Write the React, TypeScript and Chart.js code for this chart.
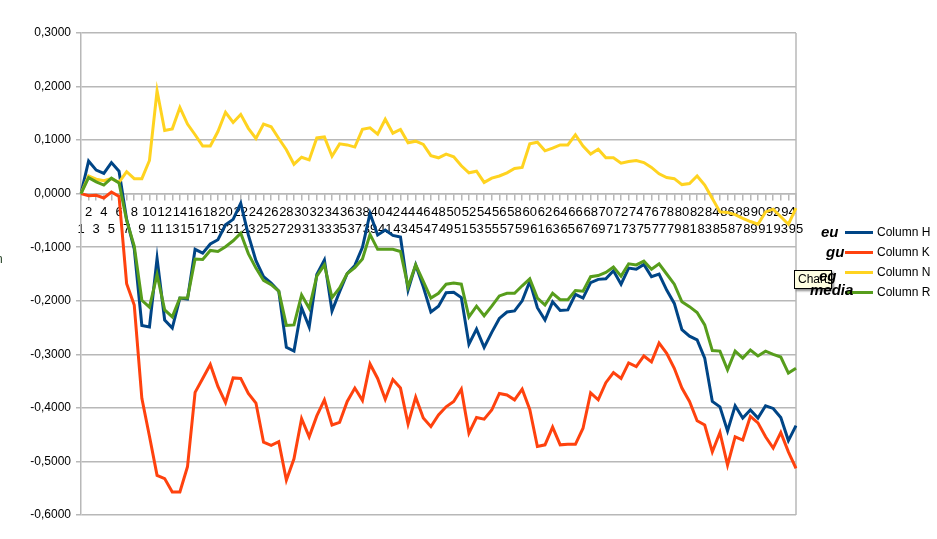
import React, { useEffect, useRef } from "react";
import { Chart, registerables } from "chart.js";

Chart.register(...registerables);

const categories: string[] = Array.from({ length: 95 }, (_, i) => String(i + 1));

const columnH: number[] = [
  0, 0.061, 0.044, 0.038, 0.058, 0.042, -0.048, -0.103, -0.246, -0.249,
  -0.121, -0.236, -0.251, -0.195, -0.197, -0.104, -0.111, -0.094, -0.086, -0.058,
  -0.048, -0.018, -0.077, -0.125, -0.155, -0.167, -0.182, -0.287, -0.294, -0.213,
  -0.249, -0.151, -0.124, -0.219, -0.183, -0.149, -0.134, -0.1, -0.037, -0.077,
  -0.068, -0.078, -0.081, -0.18, -0.133, -0.174, -0.221, -0.21, -0.185, -0.184,
  -0.194, -0.281, -0.253, -0.287, -0.259, -0.233, -0.221, -0.219, -0.2, -0.164,
  -0.213, -0.236, -0.202, -0.218, -0.217, -0.188, -0.195, -0.166, -0.16, -0.159,
  -0.144, -0.169, -0.139, -0.141, -0.132, -0.155, -0.15, -0.18, -0.205, -0.254,
  -0.266, -0.273, -0.307, -0.388, -0.398, -0.443, -0.396, -0.419, -0.404, -0.419,
  -0.396, -0.401, -0.418, -0.461, -0.433,
];

const columnK: number[] = [
  0, -0.004, -0.003, -0.008, 0.003, -0.005, -0.168, -0.208, -0.382, -0.453,
  -0.526, -0.532, -0.557, -0.557, -0.51, -0.371, -0.345, -0.319, -0.36, -0.39,
  -0.344, -0.345, -0.373, -0.391, -0.464, -0.47, -0.463, -0.535, -0.495, -0.42,
  -0.454, -0.415, -0.385, -0.432, -0.427, -0.388, -0.363, -0.386, -0.318, -0.345,
  -0.384, -0.347, -0.363, -0.43, -0.38, -0.419, -0.435, -0.413, -0.398, -0.388,
  -0.365, -0.447, -0.418, -0.421, -0.404, -0.373, -0.376, -0.385, -0.365, -0.403,
  -0.472, -0.469, -0.436, -0.469, -0.468, -0.468, -0.438, -0.372, -0.385, -0.353,
  -0.334, -0.345, -0.316, -0.323, -0.303, -0.314, -0.279, -0.298, -0.326, -0.363,
  -0.388, -0.424, -0.432, -0.482, -0.446, -0.507, -0.454, -0.46, -0.416, -0.428,
  -0.454, -0.475, -0.446, -0.482, -0.513,
];

const columnN: number[] = [
  0, 0.033, 0.027, 0.024, 0.028, 0.021, 0.041, 0.028, 0.028, 0.062,
  0.192, 0.118, 0.121, 0.161, 0.13, 0.11, 0.089, 0.089, 0.116, 0.152,
  0.133, 0.148, 0.122, 0.103, 0.13, 0.125, 0.103, 0.082, 0.055, 0.068,
  0.063, 0.104, 0.106, 0.07, 0.093, 0.091, 0.087, 0.12, 0.123, 0.111,
  0.139, 0.113, 0.12, 0.095, 0.098, 0.092, 0.071, 0.067, 0.074, 0.069,
  0.052, 0.039, 0.042, 0.021, 0.029, 0.033, 0.039, 0.047, 0.049, 0.093,
  0.096, 0.08, 0.085, 0.091, 0.091, 0.11, 0.089, 0.074, 0.083, 0.067,
  0.067, 0.057, 0.06, 0.062, 0.058, 0.049, 0.037, 0.03, 0.028, 0.017,
  0.019, 0.033, 0.016, -0.009, -0.034, -0.035, -0.039, -0.046, -0.052, -0.057,
  -0.034, -0.029, -0.043, -0.057, -0.027,
];

const columnR: number[] = [
  0, 0.03, 0.022, 0.016, 0.029, 0.02, -0.05, -0.098, -0.199, -0.212,
  -0.151, -0.217, -0.23, -0.195, -0.195, -0.122, -0.123, -0.106, -0.108, -0.099,
  -0.088, -0.074, -0.112, -0.139, -0.162, -0.17, -0.182, -0.246, -0.245, -0.189,
  -0.214, -0.154, -0.133, -0.194, -0.176, -0.149, -0.138, -0.122, -0.076, -0.104,
  -0.104, -0.104, -0.108, -0.174, -0.133, -0.164, -0.195, -0.186, -0.169, -0.167,
  -0.169, -0.23, -0.21, -0.228, -0.21, -0.191, -0.186, -0.186, -0.172, -0.159,
  -0.195, -0.208, -0.186, -0.198, -0.198, -0.181, -0.182, -0.155, -0.153, -0.147,
  -0.137, -0.154, -0.131, -0.133, -0.126, -0.141, -0.131, -0.15, -0.169, -0.202,
  -0.211, -0.222, -0.245, -0.293, -0.294, -0.329, -0.294, -0.307, -0.292, -0.303,
  -0.294, -0.3, -0.305, -0.335, -0.326,
];

const seriesNames: string[] = ["Column H", "Column K", "Column N", "Column R"];
const seriesColors: string[] = ["#004586", "#ff420e", "#ffd320", "#579d1c"];
const sideLabels: string[] = ["eu", "gu", "eg", "media"];

const FONT = "'Liberation Sans', Arial, sans-serif";
const GRID = "#b8b8b8";

const borderPlugin = {
  id: "rightBorder",
  beforeDatasetsDraw(chart: any) {
    const { ctx, chartArea } = chart;
    ctx.save();
    ctx.strokeStyle = GRID;
    ctx.lineWidth = 1.5;
    ctx.beginPath();
    ctx.moveTo(chartArea.right, chartArea.top);
    ctx.lineTo(chartArea.right, chartArea.bottom);
    ctx.stroke();
    ctx.restore();
  },
};

export default function App() {
  const canvasRef = useRef<HTMLCanvasElement | null>(null);

  useEffect(() => {
    const canvas = canvasRef.current;
    if (!canvas) return;
    const all = [columnH, columnK, columnN, columnR];
    const orders = [4, 3, 2, 1];
    const chart = new Chart(canvas, {
      type: "line",
      data: {
        labels: categories.map((c, i) => (i % 2 === 0 ? [" ", c] : [c])) as any,
        datasets: all.map((d, i) => ({
          label: seriesNames[i],
          data: d,
          borderColor: seriesColors[i],
          backgroundColor: seriesColors[i],
          borderWidth: 3,
          pointRadius: 0,
          tension: 0,
          fill: false,
          order: orders[i],
        })),
      },
      options: {
        responsive: false,
        animation: false,
        devicePixelRatio: 1,
        layout: { padding: { left: 0, top: 33, right: 141, bottom: 24 } },
        plugins: {
          legend: { display: false },
          tooltip: { enabled: false },
        },
        scales: {
          x: {
            type: "category",
            position: { y: 0 } as any,
            offset: false,
            grid: {
              display: true,
              drawOnChartArea: false,
              drawTicks: true,
              tickLength: 6,
              color: GRID,
              lineWidth: 1.5,
            },
            border: { display: true, color: GRID, width: 1.5 },
            ticks: {
              autoSkip: false,
              maxRotation: 0,
              minRotation: 0,
              padding: 5,
              color: "#000000",
              font: { family: FONT, size: 13, lineHeight: 1.27 },
            },
          },
          y: {
            min: -0.6,
            max: 0.3,
            afterFit: (scale: any) => {
              scale.width = 81;
            },
            grid: {
              color: GRID,
              lineWidth: 1.5,
              tickLength: 5,
              drawTicks: true,
            },
            border: { display: true, color: GRID, width: 1.5 },
            ticks: {
              stepSize: 0.1,
              padding: 5,
              color: "#000000",
              font: { family: FONT, size: 12 },
              callback: (v: any) => {
                let n = Number(v);
                if (Math.abs(n) < 1e-9) n = 0;
                return n.toFixed(4).replace(".", ",");
              },
            },
          },
        },
      },
      plugins: [borderPlugin],
    });
    return () => chart.destroy();
  }, []);

  const legendY = [232, 252, 272, 292];
  const sidePos = [
    { x: 821, y: 232 },
    { x: 826, y: 252 },
    { x: 819, y: 276 },
    { x: 810, y: 290 },
  ];

  return (
    <div style={{ position: "absolute", left: 0, top: 0, width: 937, height: 539, background: "#ffffff", overflow: "hidden" }}>
      <canvas ref={canvasRef} width={937} height={539} style={{ width: 937, height: 539, display: "block" }} />
      {seriesNames.map((n, i) => (
        <React.Fragment key={n}>
          <div style={{ position: "absolute", left: 845, top: legendY[i] - 1, width: 28, height: 2.5, background: seriesColors[i] }} />
          <div style={{ position: "absolute", left: 877, top: legendY[i] - 10, height: 20, lineHeight: "20px", fontFamily: FONT, fontSize: 12, color: "#000", whiteSpace: "nowrap" }}>{n}</div>
        </React.Fragment>
      ))}
      <div style={{ position: "absolute", left: 794, top: 270, width: 33, height: 17, background: "#ffffe1", border: "1px solid #000", boxShadow: "2px 2px 2px rgba(0,0,0,0.45)", fontFamily: FONT, fontSize: 12, lineHeight: "17px", paddingLeft: 3, boxSizing: "content-box", color: "#000", whiteSpace: "nowrap", overflow: "hidden" }}>Chart</div>
      {sideLabels.map((t, i) => (
        <div key={t} style={{ position: "absolute", left: sidePos[i].x, top: sidePos[i].y - 10, height: 20, lineHeight: "20px", fontFamily: FONT, fontSize: 15, fontWeight: "bold", fontStyle: "italic", color: "#000", whiteSpace: "nowrap" }}>{t}</div>
      ))}
      <div style={{ position: "absolute", left: 0, top: 252, width: 3, height: 14, overflow: "hidden" }}>
        <span style={{ position: "absolute", left: -4, top: 0, fontFamily: FONT, fontSize: 12, lineHeight: "14px", color: "#1c3a1c" }}>n</span>
      </div>
    </div>
  );
}
